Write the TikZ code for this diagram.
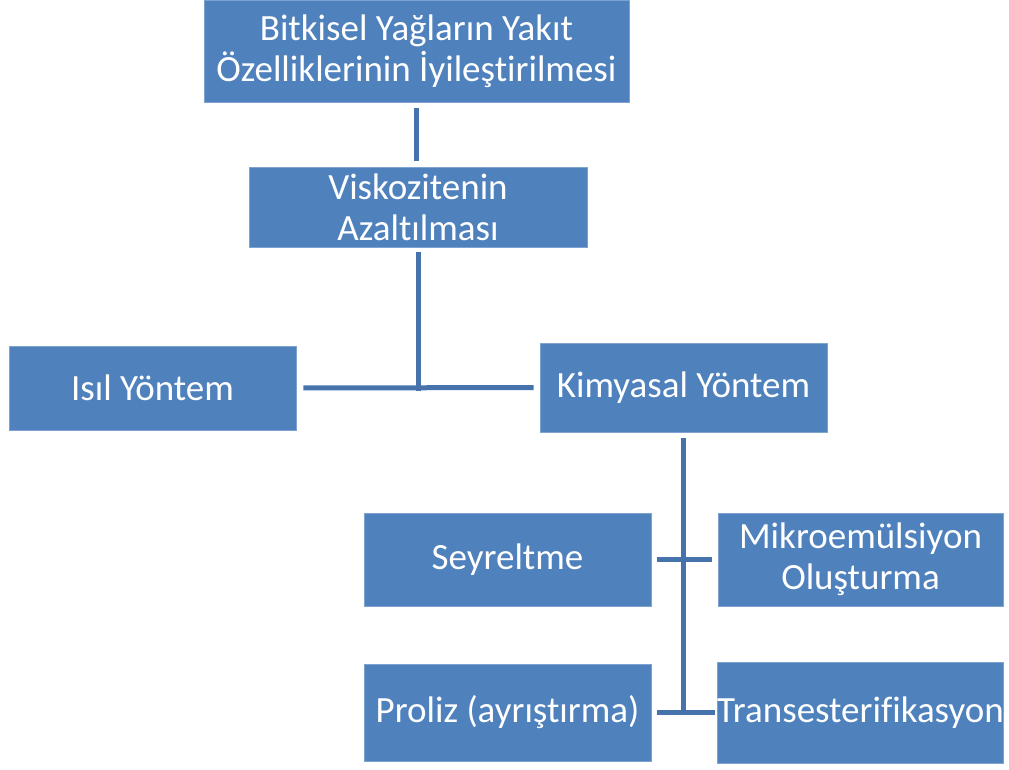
\documentclass[tikz,border=0pt]{standalone}
\usepackage{fontspec}
\setmainfont[Ligatures=NoCommon]{Carlito}
\definecolor{boxblue}{HTML}{4F81BD}
\definecolor{boxedge}{HTML}{7FA3D0}
\definecolor{linkblue}{HTML}{4673AC}
\begin{document}
\begin{tikzpicture}[x=1pt,y=-1pt,
  box/.style={rectangle, fill=boxblue, draw=boxedge, line width=0.8pt, text=white,
    font=\fontsize{37}{41}\selectfont, align=center, inner sep=0pt},
  link/.style={draw=linkblue, line width=5pt}]
\useasboundingbox (0,0) rectangle (1009,769);
\node[box, minimum width=425pt, minimum height=102pt] (top) at (416.5,51) {Bitkisel Yağların Yakıt\\Özelliklerinin İyileştirilmesi};
\node[box, minimum width=338pt, minimum height=80pt] (visko) at (418,207) {Viskozitenin\\Azaltılması};
\node[box, minimum width=287pt, minimum height=84pt] (isil) at (152.5,388) {Isıl Yöntem};
\node[box, minimum width=287pt, minimum height=89pt] (kimya) at (683.5,387.5) {Kimyasal Yöntem};
\node[box, minimum width=287pt, minimum height=93pt] (seyr) at (507.5,559.5) {Seyreltme};
\node[box, minimum width=285pt, minimum height=93pt] (mikro) at (860.5,559.5) {Mikroemülsiyon\\Oluşturma};
\node[box, minimum width=287pt, minimum height=97pt] (proliz) at (507.5,712.5) {Proliz (ayrıştırma)};
\node[box, minimum width=285pt, minimum height=101pt] (trans) at (860.5,712.5) {Transesterifikasyon};
\coordinate (j1) at (418,390.5);
\coordinate (j2) at (683.5,715);
\draw[link, shorten <=6pt, shorten >=6pt] (top) -- (top |- visko.north);
\draw[link, shorten <=5pt] (visko) -- (j1);
\draw[link, shorten <=7pt, shorten >=6pt] (isil) -- (kimya);
\draw[link, shorten <=6pt] (kimya) -- (j2);
\draw[link, shorten <=6pt, shorten >=6pt] (seyr) -- (mikro);
\draw[link, shorten <=6pt, shorten >=2pt] (proliz) -- (trans);
\end{tikzpicture}
\end{document}
